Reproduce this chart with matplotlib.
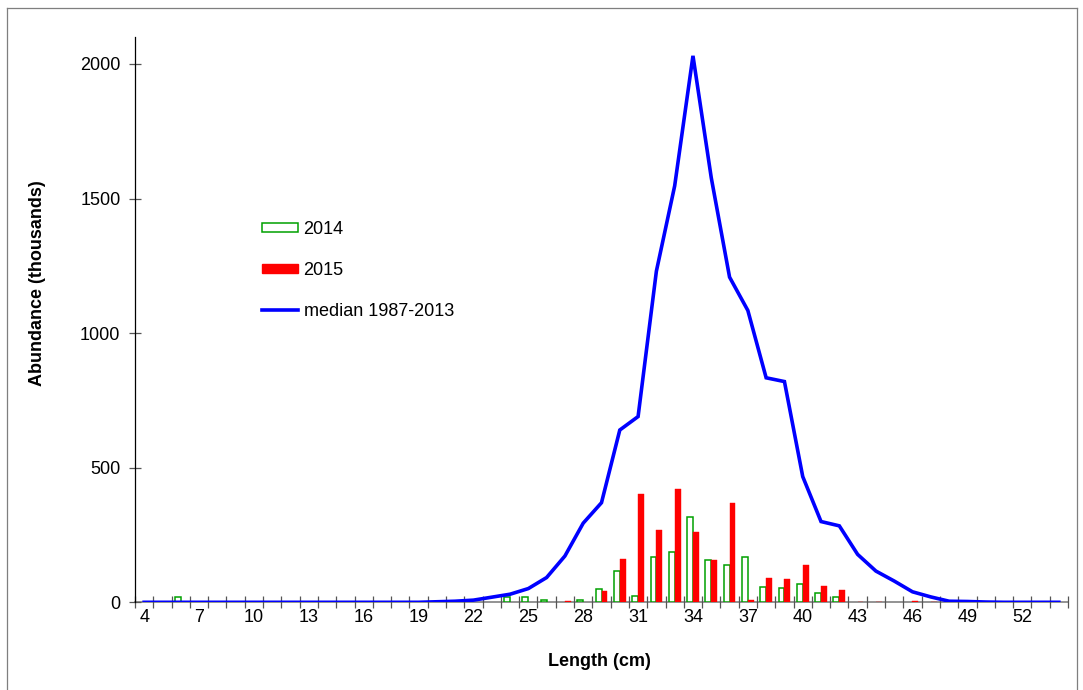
import numpy as np
import matplotlib
matplotlib.use("Agg")
import matplotlib.pyplot as plt
from matplotlib.patches import Rectangle
from matplotlib.lines import Line2D

# Length classes (cm)
lengths = list(range(4, 55))

# Abundance (thousands) per length class
abund_2014 = [0, 0, 18, 0, 0, 0, 0, 0, 0, 0, 0, 0, 0, 0, 0, 0, 0, 0, 0, 0,
              20, 20, 8, 0, 10, 50, 116, 22, 168, 187, 318, 157, 140, 168, 55,
              52, 69, 33, 20, 0, 0, 0, 0, 0, 0, 0, 0, 0, 0, 0, 0]
abund_2015 = [0, 0, 0, 0, 0, 0, 0, 0, 0, 0, 0, 0, 0, 0, 0, 0, 0, 0, 0, 0,
              0, 0, 0, 3, 0, 43, 162, 404, 269, 420, 260, 158, 368, 8, 92,
              85, 139, 61, 45, 2, 2, 0, 6, 2, 0, 0, 0, 0, 0, 0, 0]
median_1987_2013 = [0, 0, 0, 0, 0, 0, 0, 0, 0, 0, 0, 0, 0, 0, 0, 0, 2, 4, 8, 19,
                    30, 51, 92, 172, 294, 370, 640, 690, 1230, 1547, 2030, 1577,
                    1208, 1084, 834, 820, 467, 300, 284, 178, 116, 79, 39, 20, 4,
                    3, 1, 0, 0, 0, 0]

x_labels = [str(v) for v in range(4, 53, 3)]
y_ticks = [0, 500, 1000, 1500, 2000]

plt.rcParams['font.family'] = ['Liberation Sans', 'DejaVu Sans']
FS = 13

fig = plt.figure(figsize=(10.83, 6.90), dpi=100)
W, H = 1083, 690
ax = fig.add_axes([135 / W, 1 - 602.3 / H, (1068 - 135) / W, (602.3 - 37) / H])

idx = np.arange(len(lengths))
bw = 0.32
g = np.array(abund_2014, dtype=float)
r = np.array(abund_2015, dtype=float)
mg = g > 0
mr = r > 0
ax.bar(idx[mg] - bw / 2, g[mg], width=bw, facecolor='white',
       edgecolor='#00A000', linewidth=1.1, zorder=2)
ax.bar(idx[mr] + bw / 2, r[mr], width=bw, facecolor='#FF0000',
       edgecolor='#FF0000', linewidth=0.3, zorder=2)
ax.plot(idx, median_1987_2013, color='#0000FF', linewidth=2.6,
        solid_joinstyle='miter', zorder=3)

ax.set_xlim(-0.5, len(lengths) - 0.5)
ax.set_ylim(0, 2100)

# category axis: ticks at class boundaries, labels every third class
ax.set_xticks(np.arange(-0.5, len(lengths) + 0.5, 1.0))
ax.set_xticklabels([])
ax.set_xticks([lengths.index(int(s)) for s in x_labels], minor=True)
ax.set_xticklabels(x_labels, minor=True, fontsize=FS)
ax.tick_params(axis='x', which='major', direction='inout', length=9,
               width=0.9, color='#555555')
ax.tick_params(axis='x', which='minor', length=0, pad=5)
ax.set_yticks(y_ticks)
ax.set_yticklabels([str(v) for v in y_ticks], fontsize=FS)
ax.tick_params(axis='y', direction='inout', length=9, width=0.9,
               color='#555555', pad=6)

for s in ['top', 'right']:
    ax.spines[s].set_visible(False)
ax.spines['left'].set_color('black')
ax.spines['left'].set_linewidth(0.9)
ax.spines['bottom'].set_color('#808080')
ax.spines['bottom'].set_linewidth(1.2)
ax.spines['bottom'].set_zorder(1)

fig.text(38 / W, 1 - 283 / H, 'Abundance (thousands)', rotation=90,
         ha='center', va='center', fontsize=FS, fontweight='bold')
fig.text(599 / W, 1 - 661 / H, 'Length (cm)', ha='center', va='center',
         fontsize=FS, fontweight='bold')

handles = [
    Rectangle((0, 0), 1, 1, facecolor='white', edgecolor='#00A000', linewidth=1.1),
    Rectangle((0, 0), 1, 1, facecolor='#FF0000', edgecolor='#FF0000'),
    Line2D([], [], color='#0000FF', linewidth=2.6),
]
leg = fig.legend(handles, ['2014', '2015', 'median 1987-2013'],
                 loc='upper left', bbox_to_anchor=(262 / W, 1 - 221 / H),
                 frameon=False, fontsize=FS, handlelength=2.0,
                 handleheight=0.4, handletextpad=0.3, labelspacing=1.32,
                 borderpad=0, borderaxespad=0)

# outer chart border
fig.add_artist(Line2D([7 / W, 7 / W], [0, 1 - 8 / H], color='#7f7f7f', lw=0.9))
fig.add_artist(Line2D([7 / W, 1077 / W], [1 - 8 / H, 1 - 8 / H], color='#7f7f7f', lw=0.9))
fig.add_artist(Line2D([1077 / W, 1077 / W], [0, 1 - 8 / H], color='#7f7f7f', lw=0.9))

fig.savefig('out.png', dpi=100)
